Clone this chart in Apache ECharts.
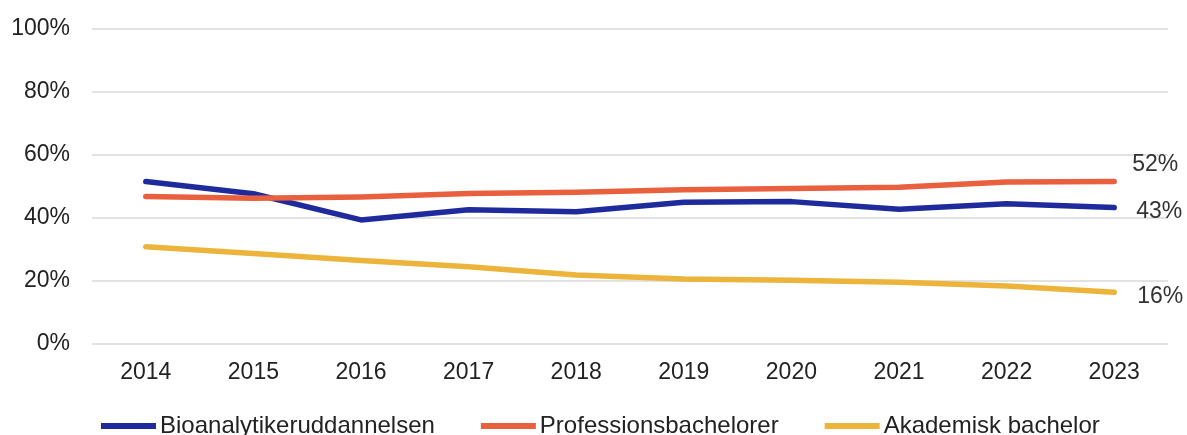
<!DOCTYPE html>
<html>
<head>
<meta charset="utf-8">
<script src="https://cdn.jsdelivr.net/npm/echarts@6/dist/echarts.min.js"></script>
<style>
  html, body { margin: 0; padding: 0; background: #fff; }
  #chart { width: 1187px; height: 435px; }
</style>
</head>
<body>
<div id="chart"></div>
<script>
// årstal
var years = ['2014', '2015', '2016', '2017', '2018', '2019', '2020', '2021', '2022', '2023'];
// andele i procent
var bioanalytiker = [51.6, 47.7, 39.4, 42.6, 42.0, 45.0, 45.2, 42.8, 44.5, 43.3];
var professionsbachelorer = [46.8, 46.3, 46.7, 47.8, 48.2, 49.0, 49.4, 49.8, 51.4, 51.6];
var akademisk = [30.9, 28.7, 26.5, 24.5, 21.9, 20.6, 20.2, 19.6, 18.4, 16.4];
var yTicks = [0, 20, 40, 60, 80, 100];

var chart = echarts.init(document.getElementById('chart'));

var font = 'Liberation Sans, Arial, sans-serif';

// hjælper til de tre serier
function lineSerie(name, data, color, labelOffset) {
    return {
        name: name,
        type: 'line',
        data: data,
        symbol: 'none',
        smooth: false,
        lineStyle: { color: color, width: 5.5, cap: 'round', join: 'round' },
        itemStyle: { color: color },
        endLabel: {
            show: true,
            formatter: function (p) { return Math.round(p.value) + '%'; },
            color: '#333',
            fontFamily: font,
            fontSize: 23,
            distance: 18,
            offset: labelOffset
        },
        emphasis: { disabled: true }
    };
}

var option = {
    animation: false,
    grid: { left: 92, right: 19, top: 29, bottom: 91 },
    legend: {
        left: 96,
        top: 409,
        icon: 'rect',
        itemWidth: 55,
        itemHeight: 6,
        itemGap: 46,
        textStyle: { color: '#222', fontSize: 24, fontFamily: font, padding: [0, 0, 0, -1] },
        data: ['Bioanalytikeruddannelsen', 'Professionsbachelorer', 'Akademisk bachelor']
    },
    xAxis: {
        type: 'category',
        data: years,
        boundaryGap: true,
        axisLine: { show: false },
        axisTick: { show: false },
        axisLabel: { color: '#222', fontSize: 23, fontFamily: font, margin: 17 }
    },
    yAxis: {
        type: 'value',
        min: yTicks[0],
        max: yTicks[yTicks.length - 1],
        interval: 20,
        axisLine: { show: false },
        axisTick: { show: false },
        axisLabel: {
            color: '#222', fontSize: 23, fontFamily: font, margin: 22,
            padding: [3, 0, 0, 0],
            formatter: function (v) { return v + '%'; }
        },
        splitLine: { lineStyle: { color: '#d9d9d9', width: 1.5 } }
    },
    series: [
        lineSerie('Bioanalytikeruddannelsen', bioanalytiker, '#1F2B9D', [4, 4]),
        lineSerie('Professionsbachelorer', professionsbachelorer, '#E9603F', [0, -17]),
        lineSerie('Akademisk bachelor', akademisk, '#ECB43B', [5, 4])
    ]
};

chart.setOption(option);
</script>
</body>
</html>
